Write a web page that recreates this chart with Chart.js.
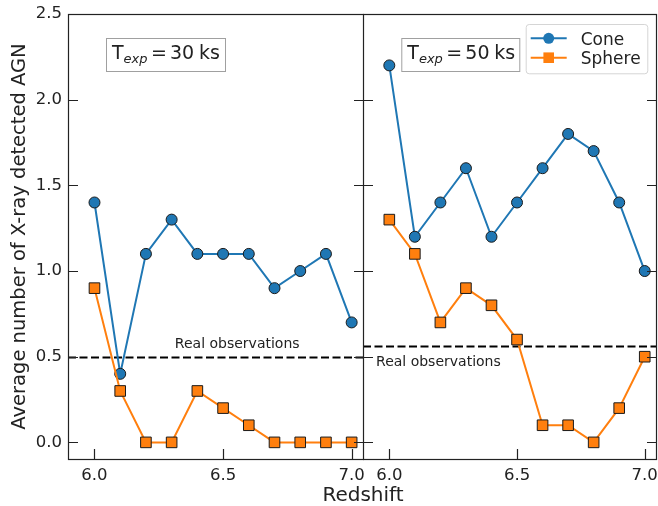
<!DOCTYPE html>
<html>
<head>
<meta charset="utf-8">
<script src="https://cdn.jsdelivr.net/npm/chart.js@4.4.1/dist/chart.umd.min.js"></script>
<style>
  html, body { margin: 0; padding: 0; background: #fff; }
  #wrap { position: relative; width: 658px; height: 506px; overflow: hidden; font-family: "DejaVu Sans", sans-serif; }
  #leftChart { position: absolute; left: 0; top: 0; }
  #rightChart { position: absolute; left: 363px; top: 0; }
  #xTitle { position: absolute; left: 263px; top: 484px; width: 200px; text-align: center;
            font-size: 20px; line-height: 20px; color: #222; }
</style>
</head>
<body>
<div id="wrap">
  <canvas id="leftChart" width="364" height="506"></canvas>
  <canvas id="rightChart" width="295" height="506"></canvas>
  <div id="xTitle">Redshift</div>
</div>
<script>
// data
const redshift = [6.0, 6.1, 6.2, 6.3, 6.4, 6.5, 6.6, 6.7, 6.8, 6.9, 7.0];
const cone30 = [1.4, 0.4, 1.1, 1.3, 1.1, 1.1, 1.1, 0.9, 1.0, 1.1, 0.7];
const sphere30 = [0.9, 0.3, 0.0, 0.0, 0.3, 0.2, 0.1, 0.0, 0.0, 0.0, 0.0];
const cone50 = [2.2, 1.2, 1.4, 1.6, 1.2, 1.4, 1.6, 1.8, 1.7, 1.4, 1.0];
const sphere50 = [1.3, 1.1, 0.7, 0.9, 0.8, 0.6, 0.1, 0.1, 0.0, 0.2, 0.5];
const realObs30 = 0.5;
const realObs50 = 0.56;
const xTicks = [6.0, 6.5, 7.0];
const yTicks = [0.0, 0.5, 1.0, 1.5, 2.0, 2.5];
const seriesNames = ['Cone', 'Sphere'];

Chart.defaults.font.family = '"DejaVu Sans", sans-serif';
Chart.defaults.color = '#222';

const BLUE = '#1f77b4';
const ORANGE = '#ff7f0e';
const INK = '#222';

function toPoints(ys) {
  return redshift.map((x, i) => ({ x: x, y: ys[i] }));
}

function makeDatasets(cone, sphere) {
  return [
    {
      label: seriesNames[0], data: toPoints(cone), order: 1,
      borderColor: BLUE, borderWidth: 2, pointStyle: 'circle', pointRadius: 5.5,
      pointBackgroundColor: BLUE, pointBorderColor: '#1a1a1a', pointBorderWidth: 1,
      tension: 0
    },
    {
      label: seriesNames[1], data: toPoints(sphere), order: 0,
      borderColor: ORANGE, borderWidth: 2, pointStyle: 'rect', pointRadius: 7.5,
      pointBackgroundColor: ORANGE, pointBorderColor: '#1a1a1a', pointBorderWidth: 1,
      tension: 0
    }
  ];
}

function drawExpBox(ctx, left, top, w, h, value) {
  ctx.save();
  ctx.fillStyle = '#fff';
  ctx.fillRect(left, top, w, h);
  ctx.strokeStyle = '#a0a0a0';
  ctx.lineWidth = 1;
  ctx.strokeRect(left + 0.5, top + 0.5, w, h);
  const base = top + 21;
  ctx.fillStyle = INK;
  ctx.textBaseline = 'alphabetic';
  ctx.textAlign = 'left';
  ctx.font = '19px "DejaVu Sans"';
  ctx.fillText('T', left + 6, base);
  const tw = ctx.measureText('T').width;
  ctx.font = 'italic 13px "DejaVu Sans"';
  ctx.fillText('exp', left + 6 + tw, base + 4);
  ctx.font = '19px "DejaVu Sans"';
  ctx.fillText('=', left + 45, base);
  ctx.fillText(value, left + 64, base);
  ctx.fillText('ks', left + 93, base);
  ctx.restore();
}

function drawLegend(chart) {
  const ctx = chart.ctx;
  const bx = 162.7, by = 24, bw = 121.6, bh = 49.3;
  ctx.save();
  ctx.beginPath();
  ctx.roundRect(bx + 0.5, by + 0.5, bw, bh, 3);
  ctx.fillStyle = 'rgba(255,255,255,0.8)';
  ctx.fill();
  ctx.strokeStyle = '#d5d5d5';
  ctx.lineWidth = 1;
  ctx.stroke();
  chart.data.datasets.forEach((ds, i) => {
    const y = 38.3 + i * 19.4;
    ctx.beginPath();
    ctx.moveTo(bx + 5, y);
    ctx.lineTo(bx + 41, y);
    ctx.strokeStyle = ds.borderColor;
    ctx.lineWidth = 2;
    ctx.stroke();
    ctx.fillStyle = ds.pointBackgroundColor;
    ctx.beginPath();
    if (ds.pointStyle === 'circle') {
      ctx.arc(bx + 23, y, 5.5, 0, Math.PI * 2);
    } else {
      ctx.rect(bx + 23 - 5.3, y - 5.3, 10.6, 10.6);
    }
    ctx.fill();
    ctx.fillStyle = INK;
    ctx.font = '17px "DejaVu Sans"';
    ctx.textBaseline = 'alphabetic';
    ctx.fillText(ds.label, bx + 55, y + 6.7);
  });
  ctx.restore();
}

const panelDecor = {
  id: 'panelDecor',
  beforeDatasetsDraw(chart, args, opts) {
    const { ctx, chartArea: { left, right }, scales: { x, y } } = chart;
    const py = Math.round(y.getPixelForValue(opts.realObs)) + 0.5;
    ctx.save();
    ctx.beginPath();
    ctx.setLineDash([8, 3.5]);
    ctx.strokeStyle = '#000';
    ctx.lineWidth = 2;
    ctx.moveTo(left, py);
    ctx.lineTo(right, py);
    ctx.stroke();
    ctx.setLineDash([]);
    ctx.fillStyle = INK;
    ctx.font = '14px "DejaVu Sans"';
    ctx.textBaseline = 'alphabetic';
    ctx.textAlign = opts.textAlign;
    ctx.fillText('Real observations', x.getPixelForValue(opts.textX), py + opts.textDy);
    ctx.restore();
  },
  afterDraw(chart, args, opts) {
    const { ctx, chartArea: { left, right, top, bottom }, scales: { x, y } } = chart;
    ctx.save();
    ctx.strokeStyle = INK;
    ctx.lineWidth = 1.2;
    // inward ticks
    ctx.beginPath();
    yTicks.forEach(v => {
      const py = Math.round(y.getPixelForValue(v)) + 0.5;
      ctx.moveTo(left, py); ctx.lineTo(left + 10, py);
      ctx.moveTo(right, py); ctx.lineTo(right - 10, py);
    });
    xTicks.forEach(v => {
      const px = Math.round(x.getPixelForValue(v)) + 0.5;
      ctx.moveTo(px, bottom); ctx.lineTo(px, bottom - 10);
    });
    ctx.stroke();
    // frame
    ctx.strokeRect(Math.round(left) + 0.5, Math.round(top) + 0.5,
      Math.round(right - left) - 1, Math.round(bottom - top));
    ctx.restore();
    drawExpBox(ctx, opts.boxLeft, 38, opts.boxWidth, 33, opts.exposure);
    if (opts.legend) drawLegend(chart);
  }
};

function makePanel(id, cone, sphere, decor, showY) {
  return new Chart(document.getElementById(id), {
    type: 'line',
    data: { datasets: makeDatasets(cone, sphere) },
    options: {
      responsive: false,
      animation: false,
      layout: { autoPadding: false, padding: { top: 14, right: showY ? 0 : 1, left: 0, bottom: 0 } },
      plugins: {
        legend: { display: false },
        tooltip: { enabled: false },
        panelDecor: decor
      },
      scales: {
        x: {
          type: 'linear',
          min: 5.897, max: 7.048,
          grid: { display: false, drawTicks: false },
          border: { display: false },
          afterBuildTicks: s => { s.ticks = xTicks.map(v => ({ value: v })); },
          afterFit: s => { s.height = 47; s.paddingLeft = 0; s.paddingRight = 0; },
          ticks: {
            padding: 7,
            font: { size: 16.5 },
            color: INK,
            callback: v => v.toFixed(1)
          }
        },
        y: {
          type: 'linear',
          display: showY,
          min: -0.097, max: 2.5,
          grid: { display: false, drawTicks: false },
          border: { display: false },
          afterBuildTicks: s => { s.ticks = yTicks.map(v => ({ value: v })); },
          afterFit: s => { s.width = showY ? 68 : 0; s.paddingTop = 0; s.paddingBottom = 0; },
          ticks: {
            padding: 6,
            font: { size: 16.5 },
            color: INK,
            callback: v => v.toFixed(1)
          },
          title: {
            display: true,
            text: 'Average number of X-ray detected AGN',
            font: { size: 19.5 },
            color: INK,
            padding: { top: 8.3, bottom: 0 }
          }
        }
      }
    },
    plugins: [panelDecor]
  });
}

makePanel('leftChart', cone30, sphere30, {
  realObs: realObs30, textX: 6.555, textAlign: 'center', textDy: -10,
  boxLeft: 106, boxWidth: 119, exposure: '30', legend: false
}, true);

makePanel('rightChart', cone50, sphere50, {
  realObs: realObs50, textX: 5.948, textAlign: 'left', textDy: 19,
  boxLeft: 38.3, boxWidth: 118, exposure: '50', legend: true
}, false);
</script>
</body>
</html>
